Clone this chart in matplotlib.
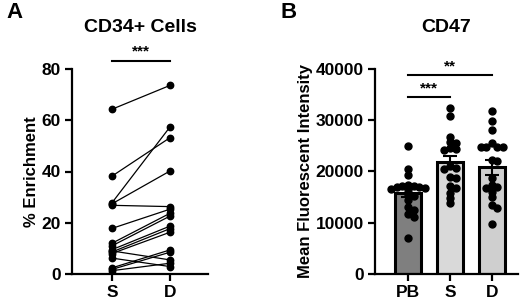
import numpy as np
import matplotlib
matplotlib.use('Agg')
import matplotlib.pyplot as plt

plt.rcParams['font.family'] = ['Liberation Sans', 'DejaVu Sans']
plt.rcParams['font.weight'] = 'bold'

# panel A: paired % enrichment, S vs D
pair_labels = ['S', 'D']
enrich_s = [64.3, 38.2, 27.8, 27.4, 26.8, 17.8, 12.0, 11.0, 9.5, 8.6, 8.0, 9.0, 6.2, 2.4, 1.8, 1.3]
enrich_d = [73.6, 53.2, 57.4, 40.2, 26.3, 25.3, 23.7, 22.6, 18.7, 17.7, 16.3, 5.5, 2.9, 9.4, 8.5, 4.2]

# panel B: CD47 mean fluorescent intensity
groups = ['PB', 'S', 'D']
mfi_pb = [24900, 20500, 19400, 17300, 17200, 17100, 17000, 16900, 16800, 16600,
          16400, 15500, 15200, 14400, 13100, 12500, 11700, 11100, 7000]
mfi_s = [32400, 30900, 26700, 25800, 25600, 24300, 24500, 24200, 21000, 20700,
         20500, 18900, 18800, 17100, 16800, 15800, 14900, 13900]
mfi_d = [31900, 29800, 28100, 25500, 24800, 24800, 24700, 24700, 22300, 22100,
         18800, 17400, 17000, 16800, 16000, 15100, 13400, 12800, 9700]
bar_colors = ['#7f7f7f', '#d9d9d9', '#cfcfcf']


def swarm(values, y_px, x_px, diam):
    # simple beeswarm: place each point at the nearest free x offset
    order = np.argsort(values)[::-1]
    placed = []
    offs = np.zeros(len(values))
    cands = [0]
    for k in range(1, 12):
        cands += [k * 0.6, -k * 0.6]
    for i in order:
        y = values[i] * y_px
        for c in cands:
            x = c * diam
            if all((x - px) ** 2 + (y - py) ** 2 >= diam ** 2 for px, py in placed):
                break
        placed.append((x, y))
        offs[i] = x / x_px
    return offs


fig = plt.figure(figsize=(5.2, 3.02), dpi=100)

# ---- panel A
ax = fig.add_axes([72 / 520, 1 - 274 / 302, 136 / 520, 205 / 302])
for s, d in zip(enrich_s, enrich_d):
    ax.plot([0, 1], [s, d], color='black', lw=0.9, zorder=2)
ax.plot(np.zeros(len(enrich_s)), enrich_s, 'o', color='black', ms=4.6, zorder=3)
ax.plot(np.ones(len(enrich_d)), enrich_d, 'o', color='black', ms=4.6, zorder=3)
ax.set_xlim(-0.69, 1.655)
ax.set_ylim(0, 80)
ax.set_yticks([0, 20, 40, 60, 80])
ax.set_xticks([0, 1])
ax.set_xticklabels(pair_labels)
ax.set_ylabel('% Enrichment', fontsize=12, fontweight='bold', labelpad=2)
ax.set_title('CD34+ Cells', fontsize=14, fontweight='bold', pad=27)
ax.plot([0, 1], [83.2, 83.2], color='black', lw=1.5, clip_on=False)
ax.text(0.5, 84.3, '***', ha='center', va='bottom', fontsize=11, fontweight='bold')

# ---- panel B
bx = fig.add_axes([375 / 520, 1 - 274 / 302, 143 / 520, 205 / 302])
data = [mfi_pb, mfi_s, mfi_d]
means = [np.mean(v) for v in data]
sems = [np.std(v, ddof=1) / np.sqrt(len(v)) for v in data]
xs = np.arange(len(groups))
bx.bar(xs, means, width=0.64, color=bar_colors, edgecolor='black', linewidth=2.2, zorder=1)
bx.errorbar(xs, means, yerr=sems, fmt='none', ecolor='black', elinewidth=1.5,
            capsize=5, capthick=1.5, zorder=2)
for i, v in enumerate(data):
    v = np.array(v, dtype=float)
    off = swarm(v, 205 / 40000, 42, 4.6)
    bx.plot(xs[i] + off, v, 'o', color='black', ms=5.0, zorder=3, clip_on=False)
bx.set_xlim(-0.786, 2.62)
bx.set_ylim(0, 40000)
bx.set_yticks([0, 10000, 20000, 30000, 40000])
bx.set_xticks(xs)
bx.set_xticklabels(groups)
bx.set_ylabel('Mean Fluorescent Intensity', fontsize=12, fontweight='bold', labelpad=2)
bx.set_title('CD47', fontsize=14, fontweight='bold', pad=27)
bx.plot([0, 2], [38800, 38800], color='black', lw=1.5, clip_on=False)
bx.text(1, 39100, '**', ha='center', va='bottom', fontsize=11, fontweight='bold')
bx.plot([0, 1], [34600, 34600], color='black', lw=1.5, clip_on=False)
bx.text(0.5, 34900, '***', ha='center', va='bottom', fontsize=11, fontweight='bold')

for a in (ax, bx):
    a.spines['top'].set_visible(False)
    a.spines['right'].set_visible(False)
    a.spines['left'].set_linewidth(1.6)
    a.spines['bottom'].set_linewidth(1.6)
    a.tick_params(width=1.6, length=5, labelsize=12.5, pad=3)
    for lab in a.get_xticklabels() + a.get_yticklabels():
        lab.set_fontweight('bold')

fig.text(6 / 520, 1 - 13 / 302, 'A', fontsize=16, fontweight='bold', va='center')
fig.text(280 / 520, 1 - 13 / 302, 'B', fontsize=16, fontweight='bold', va='center')

fig.savefig('out.png', dpi=100)
